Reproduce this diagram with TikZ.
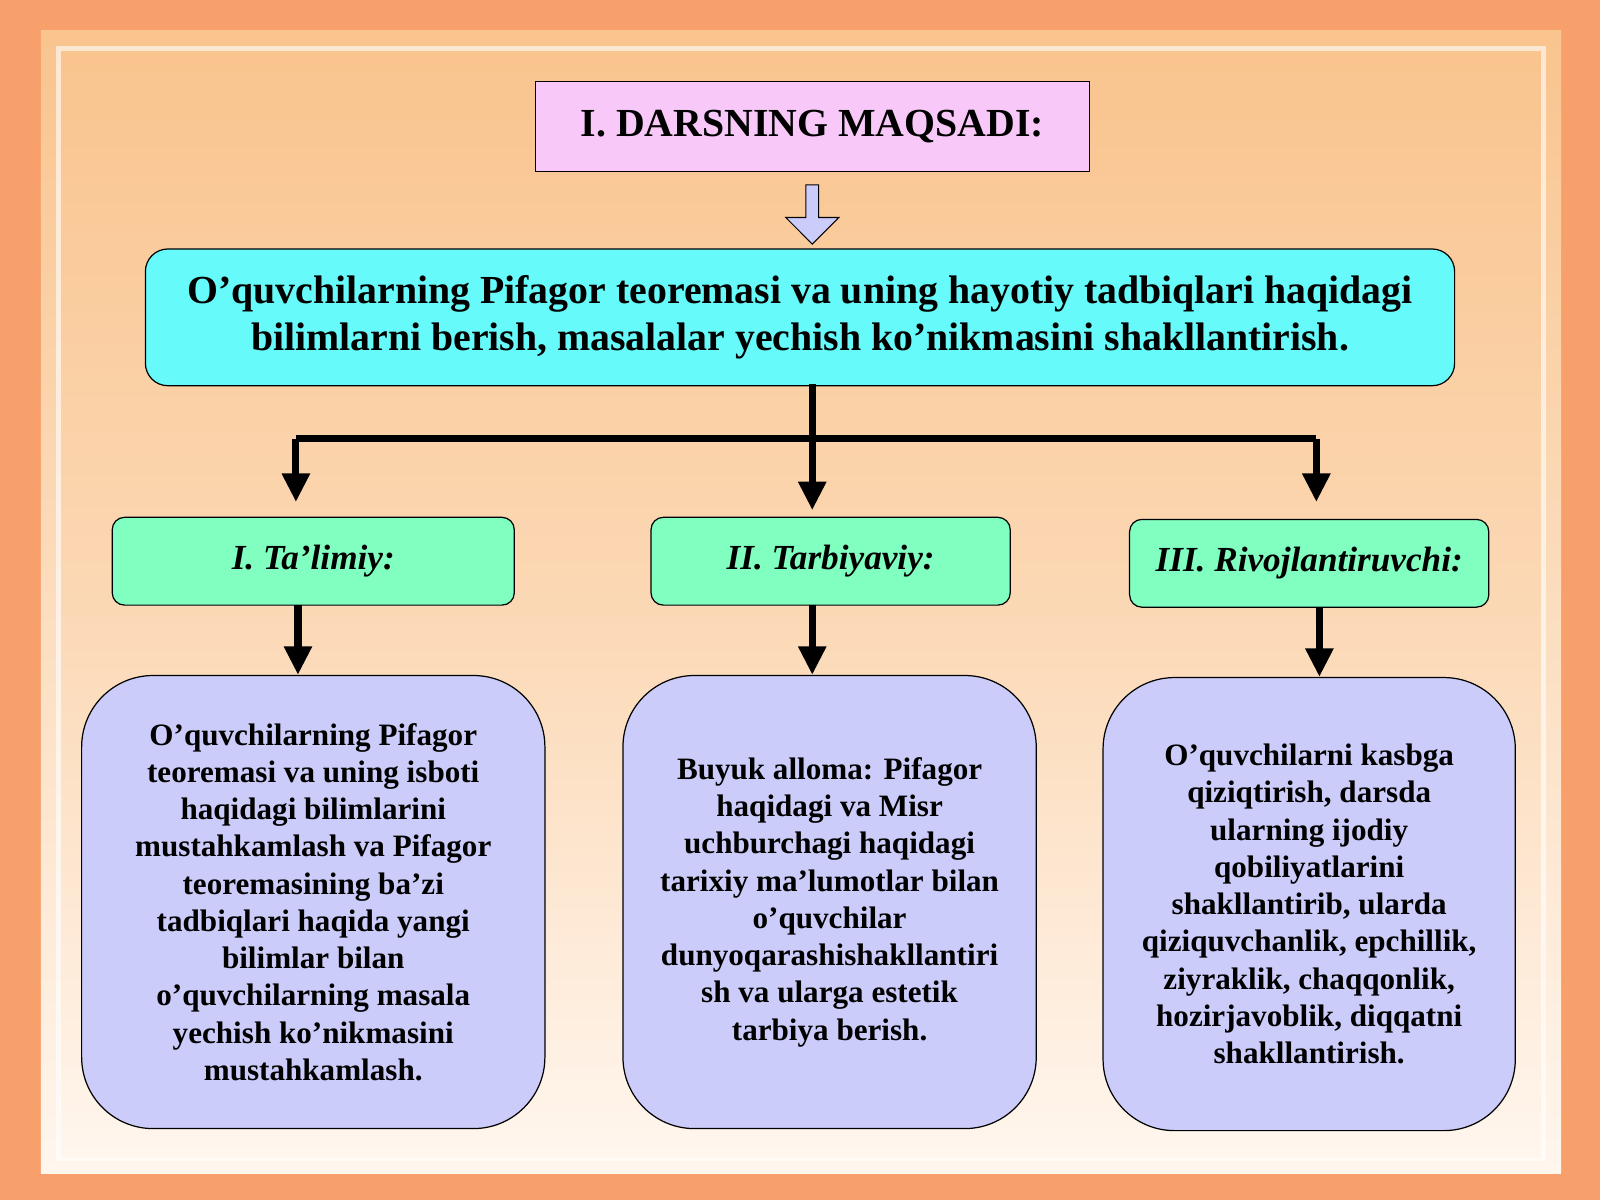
\documentclass[tikz,border=0pt]{standalone}
\usepackage{fontspec}
\setmainfont{Liberation Serif}
\usetikzlibrary{arrows.meta,shapes.arrows}
\definecolor{outer}{HTML}{F7A06C}
\definecolor{innertop}{HTML}{F9C48E}
\definecolor{innerbot}{HTML}{FFF6EE}
\definecolor{pinkbox}{HTML}{F8C8F8}
\definecolor{cyanbox}{HTML}{66FAFA}
\definecolor{greenbox}{HTML}{80FFC0}
\definecolor{lavbox}{HTML}{CCCCFA}
\begin{document}
\begin{tikzpicture}[x=1pt,y=-1pt,
  box/.style={draw=black,line width=1.2pt},
  conn/.style={line width=7pt,-{Triangle[width=26pt,length=28pt]}},
  lvl/.style={box,rounded corners=12pt,fill=greenbox,font=\fontsize{34.5}{40}\selectfont\bfseries\itshape},
  body/.style={box,rounded corners=70pt,fill=lavbox,font=\fontsize{30.5}{36.5}\selectfont\bfseries,align=center}]
\useasboundingbox (0,0) rectangle (1568,1176);
\fill[outer] (0,0) rectangle (1568,1176);
\shade[top color=innertop,bottom color=innerbot] (40,30) rectangle (1530,1150);
\fill[white,opacity=0.6] (55,45) rectangle (1515,1138);
\shade[top color=innertop,bottom color=innerbot,middle color=innertop!60!innerbot] (60,50) rectangle (1510,1134);
% title
\node[box,fill=pinkbox,minimum width=543pt,minimum height=88pt,font=\fontsize{39}{44}\selectfont\bfseries] (t) at (796,124) {\raisebox{-4pt}{I. DARSNING MAQSADI:}};
\node[single arrow,draw=black,line width=1pt,fill=lavbox,shape border rotate=270,minimum width=52pt,minimum height=58pt,single arrow head extend=12pt,single arrow tip angle=90] (ar) at (796,207) {};
% main
\node[box,rounded corners=22pt,fill=cyanbox,minimum width=1283pt,minimum height=134pt,align=center,font=\fontsize{39}{46}\selectfont\bfseries] (m) at (784,311) {O’quvchilarning Pifagor teoremasi va uning hayotiy tadbiqlari haqidagi\\bilimlarni berish, masalalar yechish ko’nikmasini shakllantirish.};
% level 2
\node[lvl,minimum width=394pt,minimum height=86pt] (a) at (307,550) {I. Ta’limiy:};
\node[lvl,minimum width=352pt,minimum height=86pt] (b) at (814,550) {II. Tarbiyaviy:};
\node[lvl,minimum width=352pt,minimum height=86pt] (c) at (1283,552) {III. Rivojlantiruvchi:};
% connectors
\coordinate (j) at (796,430);
\coordinate (jl) at (290,430);
\coordinate (jr) at (1290,430);
\draw[line width=7pt] (796,376) -- (j);
\draw[line width=7pt] (jl) -- (jr);
\draw[conn] (jl) -- (290,492);
\draw[conn] (j) -- (796,500);
\draw[conn] (jr) -- (1290,492);
% level 3
\node[body,minimum width=454pt,minimum height=444pt] (d) at (307,884) {O’quvchilarning Pifagor\\teoremasi va uning isboti\\haqidagi bilimlarini\\mustahkamlash va Pifagor\\teoremasining ba’zi\\tadbiqlari haqida yangi\\bilimlar bilan\\o’quvchilarning masala\\yechish ko’nikmasini\\mustahkamlash.};
\node[body,minimum width=405pt,minimum height=444pt] (e) at (813,884) {Buyuk alloma: Pifagor\\haqidagi va Misr\\uchburchagi haqidagi\\tarixiy ma’lumotlar bilan\\o’quvchilar\\dunyoqarashishakllantiri\\sh va ularga estetik\\tarbiya berish.};
\node[body,minimum width=404pt,minimum height=444pt] (f) at (1283,886) {O’quvchilarni kasbga\\qiziqtirish, darsda\\ularning ijodiy\\qobiliyatlarini\\shakllantirib, ularda\\qiziquvchanlik, epchillik,\\ziyraklik, chaqqonlik,\\hozirjavoblik, diqqatni\\shakllantirish.};
\draw[conn] (292,593) -- (d.north -| 292,0);
\draw[conn] (796,593) -- (e.north -| 796,0);
\draw[conn] (1293,595) -- (f.north -| 1293,0);
\end{tikzpicture}
\end{document}
